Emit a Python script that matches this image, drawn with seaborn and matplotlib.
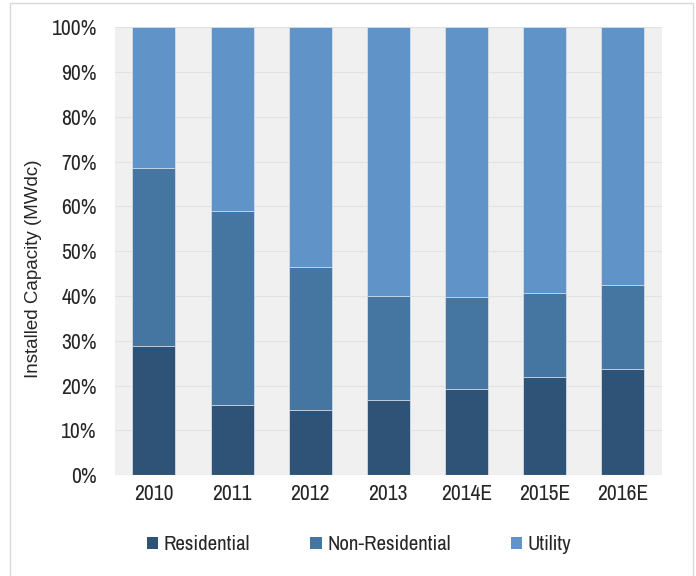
import numpy as np
import pandas as pd
import seaborn as sns
import matplotlib.pyplot as plt
from matplotlib import font_manager
from matplotlib.patches import Patch, Rectangle
from matplotlib.ticker import PercentFormatter

# Data (share of installed capacity, %)
years = ["2010", "2011", "2012", "2013", "2014E", "2015E", "2016E"]
residential = [28.8, 15.6, 14.5, 16.7, 19.2, 21.9, 23.7]
non_residential = [39.7, 43.3, 31.9, 23.3, 20.5, 18.7, 18.7]
utility = [31.5, 41.1, 53.6, 60.0, 60.3, 59.4, 57.6]

segments = ["Residential", "Non-Residential", "Utility"]
colors = ["#2F5277", "#4575A1", "#6094C9"]

df = pd.DataFrame({
    "year": years,
    "Residential": residential,
    "Non-Residential": non_residential,
    "Utility": utility,
})
cum = df[segments].cumsum(axis=1)

sns.set_style("white")
installed = sorted({f.name for f in font_manager.fontManager.ttflist})
narrow = [n for n in installed if "Narrow" in n or "Condensed" in n]
plt.rcParams["font.family"] = narrow[:1] + ["DejaVu Sans"]

fig = plt.figure(figsize=(6.96, 5.76), dpi=100)
ax = fig.add_axes([0.165, 0.175, 0.786, 0.778])
ax.set_facecolor("#F0F0F0")

# draw the stacked bars from the top segment down
for seg, col in reversed(list(zip(segments, colors))):
    sns.barplot(x=df["year"], y=cum[seg], color=col, saturation=1, width=0.55,
                edgecolor="#D6DEE8", linewidth=0.6, ax=ax, zorder=3)

ax.set_ylim(0, 100)
ax.set_xlim(-0.5, len(years) - 0.5)
ax.set_yticks(np.arange(0, 101, 10))
ax.yaxis.set_major_formatter(PercentFormatter(decimals=0))
ax.grid(axis="y", color="#E2E2E2", linewidth=0.8, zorder=0)
ax.set_axisbelow(True)
for s in ax.spines.values():
    s.set_visible(False)
ax.axhline(0, color="#D9D9D9", linewidth=0.8, zorder=4)

ax.set_xlabel("")
ax.set_ylabel("Installed Capacity (MWdc)", fontsize=13.5, color="#262626",
              family=["Liberation Sans", "DejaVu Sans"])
ax.yaxis.set_label_coords(-0.133, 0.46)
ax.tick_params(axis="x", length=0, labelsize=15.5, colors="#262626", pad=6)
ax.tick_params(axis="y", length=0, labelsize=15.5, colors="#262626", pad=13)

handles = [Patch(facecolor=c, edgecolor="none") for c in colors]
fig.legend(handles, segments, loc="center", bbox_to_anchor=(0.516, 0.054), ncol=3,
           frameon=False, fontsize=15, handlelength=0.55, handleheight=0.55,
           handletextpad=0.25, columnspacing=2.9)

# light frame around the chart
fig.patches.append(Rectangle((0.015, -0.01), 0.98, 1.005, transform=fig.transFigure,
                             fill=False, edgecolor="#D9D9D9", linewidth=1.0))

fig.savefig("out.png", dpi=100)
